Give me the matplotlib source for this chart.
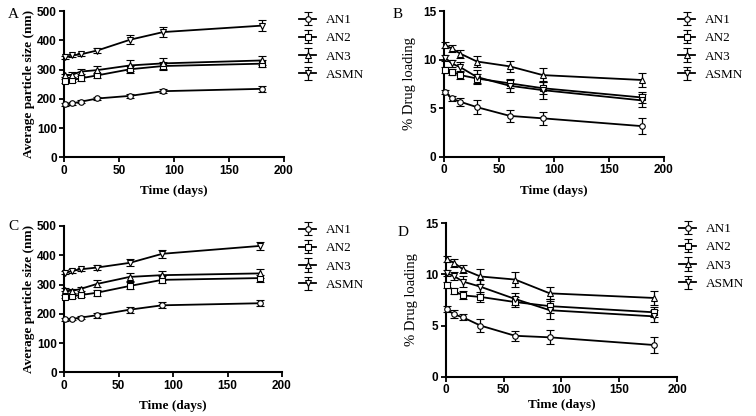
import matplotlib
matplotlib.use("Agg")
import matplotlib.pyplot as plt
import numpy as np

days = [1, 7, 15, 30, 60, 90, 180]
series_names = ["AN1", "AN2", "AN3", "ASMN"]

# Panel A: particle size (nm)
a_an1 = [181, 184, 190, 201, 210, 226, 234]
a_an2 = [260, 264, 270, 280, 301, 312, 320]
a_an3 = [280, 282, 293, 298, 314, 321, 331]
a_asmn = [342, 348, 352, 365, 402, 428, 450]
a_err_an1 = [4, 4, 5, 5, 8, 7, 10]
a_err_an2 = [6, 6, 8, 8, 12, 12, 12]
a_err_an3 = [5, 8, 10, 15, 20, 18, 14]
a_err_asmn = [5, 6, 6, 10, 15, 18, 18]

# Panel B: % drug loading
b_an1 = [6.7, 6.0, 5.65, 5.1, 4.2, 3.95, 3.15]
b_an2 = [8.9, 8.75, 8.4, 8.05, 7.55, 7.05, 6.1]
b_an3 = [11.5, 11.15, 10.6, 9.8, 9.3, 8.4, 7.9]
b_asmn = [10.2, 9.6, 9.2, 8.2, 7.3, 6.85, 5.8]
b_err_an1 = [0.2, 0.3, 0.4, 0.7, 0.6, 0.7, 0.8]
b_err_an2 = [0.3, 0.3, 0.4, 0.5, 0.5, 0.6, 0.6]
b_err_an3 = [0.3, 0.4, 0.4, 0.6, 0.6, 0.7, 0.7]
b_err_asmn = [0.3, 0.4, 0.5, 0.7, 0.6, 0.9, 0.7]

# Panel C: particle size (nm)
c_an1 = [181, 182, 187, 195, 214, 229, 236]
c_an2 = [258, 260, 264, 272, 295, 316, 322]
c_an3 = [282, 278, 285, 302, 326, 332, 338]
c_asmn = [340, 346, 352, 358, 374, 405, 432]
c_err_an1 = [4, 4, 6, 8, 10, 10, 10]
c_err_an2 = [5, 6, 8, 10, 12, 12, 12]
c_err_an3 = [5, 6, 8, 12, 14, 15, 15]
c_err_asmn = [5, 6, 6, 8, 12, 14, 15]

# Panel D: % drug loading
d_an1 = [6.6, 6.1, 5.8, 5.0, 4.0, 3.85, 3.1]
d_an2 = [9.0, 8.4, 7.95, 7.8, 7.3, 6.9, 6.3]
d_an3 = [11.5, 11.15, 10.5, 9.8, 9.5, 8.15, 7.7]
d_asmn = [10.1, 9.85, 9.3, 8.8, 7.6, 6.5, 5.9]
d_err_an1 = [0.3, 0.4, 0.3, 0.6, 0.5, 0.7, 0.8]
d_err_an2 = [0.3, 0.3, 0.4, 0.5, 0.5, 0.7, 0.5]
d_err_an3 = [0.3, 0.4, 0.4, 0.7, 0.7, 0.6, 0.7]
d_err_asmn = [0.3, 0.4, 0.5, 0.7, 0.6, 0.9, 0.6]

markers = ["o", "s", "^", "v"]

SERIF = ["Liberation Serif", "DejaVu Serif"]
SANS = ["Liberation Sans", "DejaVu Sans"]

fig = plt.figure(figsize=(7.56, 4.16), dpi=100)
W, H = 756.0, 416.0


def make_axes(x0, x1, ytop, ybot):
    return fig.add_axes([x0 / W, 1 - ybot / H, (x1 - x0) / W, (ybot - ytop) / H])


def draw(ax, vals, errs, ymax, ystep, ylabel, ybold, legend_xy, letter,
         letter_xy, xpad):
    handles = []
    for v, e, m, name in zip(vals, errs, markers, series_names):
        h = ax.errorbar(days, v, yerr=e, color="black", lw=1.3, marker=m,
                        markersize=4, markerfacecolor="white",
                        markeredgecolor="black", markeredgewidth=0.8,
                        capsize=3, elinewidth=0.9, capthick=0.9, label=name,
                        clip_on=False, zorder=3)
        handles.append(h)
    ax.set_xlim(0, 200)
    ax.set_ylim(0, ymax)
    ax.set_xticks([0, 50, 100, 150, 200])
    ax.set_yticks(np.arange(0, ymax + 0.1, ystep))
    for s in ["top", "right"]:
        ax.spines[s].set_visible(False)
    for s in ["left", "bottom"]:
        ax.spines[s].set_linewidth(1.5)
    ax.tick_params(width=1.3, length=3.5, pad=2)
    for lab in ax.get_xticklabels() + ax.get_yticklabels():
        lab.set_fontfamily(SANS)
        lab.set_fontweight("bold")
        lab.set_fontsize(8.5)
    ax.set_xlabel("Time (days)", fontfamily=SERIF, fontweight="bold",
                  fontsize=9.5, labelpad=xpad)
    ax.set_ylabel(ylabel, fontfamily=SERIF,
                  fontweight="bold" if ybold else "normal",
                  fontsize=9.5 if ybold else 10.5,
                  labelpad=1 if ybold else 5)
    ax.legend(handles=handles, loc="upper left",
              bbox_to_anchor=(legend_xy[0] / W, 1 - legend_xy[1] / H),
              bbox_transform=fig.transFigure, frameon=False,
              prop={"family": SERIF, "size": 9.5}, handlelength=1.3,
              handletextpad=0.7, labelspacing=0.45, borderaxespad=0,
              borderpad=0)
    fig.text(letter_xy[0] / W, 1 - letter_xy[1] / H, letter,
             fontfamily=SERIF, fontsize=11, va="center", ha="left")


axA = make_axes(64.3, 284, 11, 157.3)
draw(axA, [a_an1, a_an2, a_an3, a_asmn],
     [a_err_an1, a_err_an2, a_err_an3, a_err_asmn], 500, 100,
     "Average particle size (nm)", True, (299, 14), "A", (8, 15), 6)

axB = make_axes(444, 663.6, 11, 156.7)
draw(axB, [b_an1, b_an2, b_an3, b_asmn],
     [b_err_an1, b_err_an2, b_err_an3, b_err_asmn], 15, 5,
     "% Drug loading", False, (678, 14), "B", (393, 15), 6)

axC = make_axes(64.3, 282, 226, 372.3)
draw(axC, [c_an1, c_an2, c_an3, c_asmn],
     [c_err_an1, c_err_an2, c_err_an3, c_err_asmn], 500, 100,
     "Average particle size (nm)", True, (299, 224), "C", (8, 227), 6)

axD = make_axes(445.7, 677, 223.3, 376.7)
draw(axD, [d_an1, d_an2, d_an3, d_asmn],
     [d_err_an1, d_err_an2, d_err_an3, d_err_asmn], 15, 5,
     "% Drug loading", False, (679, 223), "D", (398, 232), 2)

fig.savefig("out.png", dpi=100, facecolor="white")
